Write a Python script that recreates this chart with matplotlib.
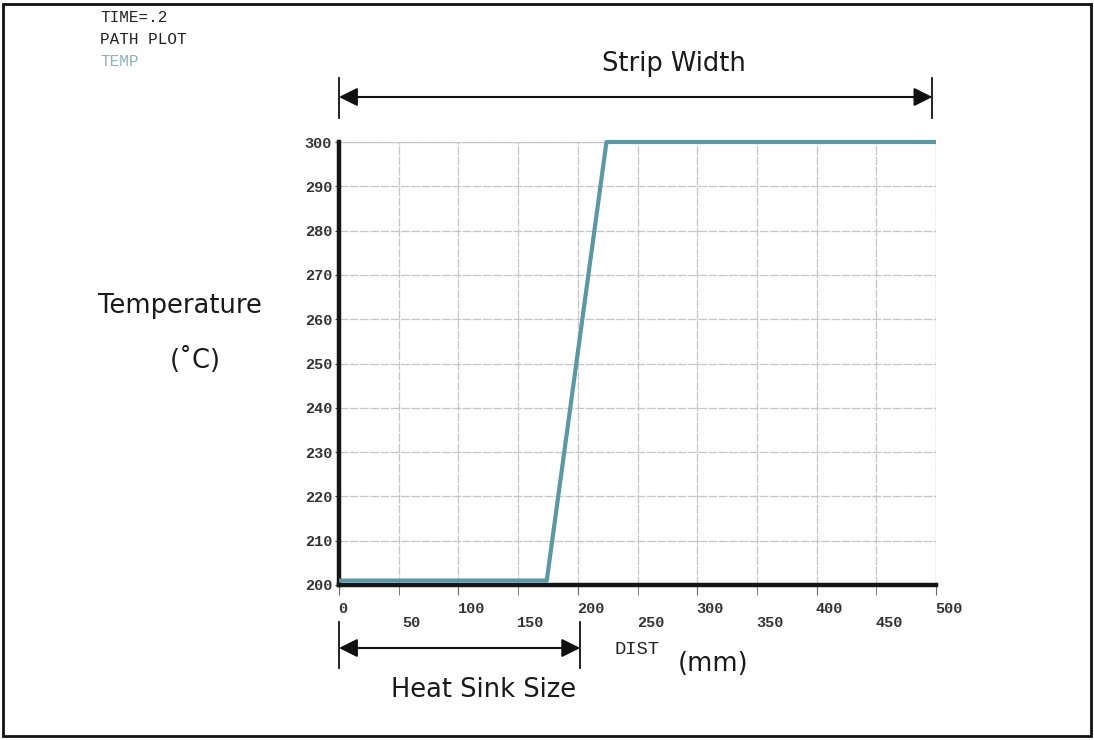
import numpy as np
import matplotlib.pyplot as plt
from matplotlib.patches import Rectangle
from matplotlib.lines import Line2D
from matplotlib.ticker import MultipleLocator, FormatStrFormatter
from matplotlib.transforms import blended_transform_factory, ScaledTranslation

# path plot of temperature across the strip
dist = [0, 174, 224, 500]
temp = [201, 201, 300, 300]

header = ['TIME=.2', 'PATH PLOT', 'TEMP']
header_col = ['#222222', '#222222', '#8ab4c0']

W, H = 1094, 740
fig = plt.figure(figsize=(W / 100, H / 100), dpi=100)
fig.patch.set_facecolor('white')

def fx(px):
    return px / W

def fy(py):
    return 1 - py / H

ax = fig.add_axes([fx(339), fy(585), fx(936) - fx(339), fy(142) - fy(585)])
ax.plot(dist, temp, color='#5b98a4', lw=3, solid_capstyle='butt', zorder=5, clip_on=False)

ax.set_xlim(0, 500)
ax.set_ylim(200, 300)
ax.xaxis.set_major_locator(MultipleLocator(100))
ax.xaxis.set_minor_locator(MultipleLocator(50))
ax.xaxis.set_minor_formatter(FormatStrFormatter('%d'))
ax.yaxis.set_major_locator(MultipleLocator(10))

gcol = '#c6c6c6'
ax.grid(True, which='both', color=gcol, lw=0.9, ls=(0, (7, 1.2)))
for s in ['top', 'right']:
    ax.spines[s].set_visible(False)
for s in ['left', 'bottom']:
    ax.spines[s].set_linewidth(3.2)
    ax.spines[s].set_color('#151515')
ax.axhline(300, color=gcol, lw=0.9)
ax.axvline(500, color=gcol, lw=0.9)

ax.tick_params(axis='x', which='major', length=7, color='#666666', pad=5, labelcolor='#333333')
ax.tick_params(axis='x', which='minor', length=7, color='#666666', pad=15, labelcolor='#333333')
ax.tick_params(axis='y', length=3, color='#333333', pad=2, labelcolor='#333333')
for lab in ax.get_xticklabels(which='both') + ax.get_yticklabels():
    lab.set_family('Liberation Mono')
    lab.set_fontsize(11)
    lab.set_fontweight('bold')

# x labels sit a little right of their ticks
fig.canvas.draw()
for lab in ax.get_xticklabels(which='both'):
    dx = 4 if lab.get_text() == '0' else 13
    lab.set_transform(lab.get_transform() + ScaledTranslation(dx / 100, 0, fig.dpi_scale_trans))

# header text
for i, (t, c) in enumerate(zip(header, header_col)):
    fig.text(fx(100), fy(17 + 22 * i), t, family='Liberation Mono', size=11.5,
             color=c, va='center', ha='left')

sans = dict(family='DejaVu Sans', size=18.5, color='#1a1a1a')
fig.text(fx(180), fy(306), 'Temperature', ha='center', va='center', **sans)
fig.text(fx(195), fy(360), '(˚C)', ha='center', va='center', **sans)
fig.text(fx(674), fy(64), 'Strip Width', ha='center', va='center', **sans)
fig.text(fx(484), fy(690), 'Heat Sink Size', ha='center', va='center', **sans)
fig.text(fx(713), fy(664), '(mm)', ha='center', va='center', **sans)
fig.text(fx(637), fy(649), 'DIST', ha='center', va='center', family='Liberation Mono',
         size=13.5, color='#222222')

# dimension arrows in data x / figure y
trans = blended_transform_factory(ax.transData, fig.transFigure)

def dim_arrow(x0, x1, y, ybar0, ybar1):
    ax.annotate('', xy=(x1, fy(y)), xytext=(x0, fy(y)), xycoords=trans, textcoords=trans,
                arrowprops=dict(arrowstyle='<|-|>', color='#111111', lw=1.5,
                                mutation_scale=28, shrinkA=0, shrinkB=0))
    for xv in (x0, x1):
        fig.add_artist(Line2D([xv, xv], [fy(ybar0), fy(ybar1)], transform=trans,
                              color='#111111', lw=1.3))

dim_arrow(0, 497, 97, 78, 118)
dim_arrow(0, 202, 648, 622, 668)

# outer frame
fig.add_artist(Rectangle((fx(3), fy(736)), fx(1088), fy(4) - fy(736), transform=fig.transFigure,
                         fill=False, edgecolor='#111111', lw=2))

fig.savefig('out.png', dpi=100)
